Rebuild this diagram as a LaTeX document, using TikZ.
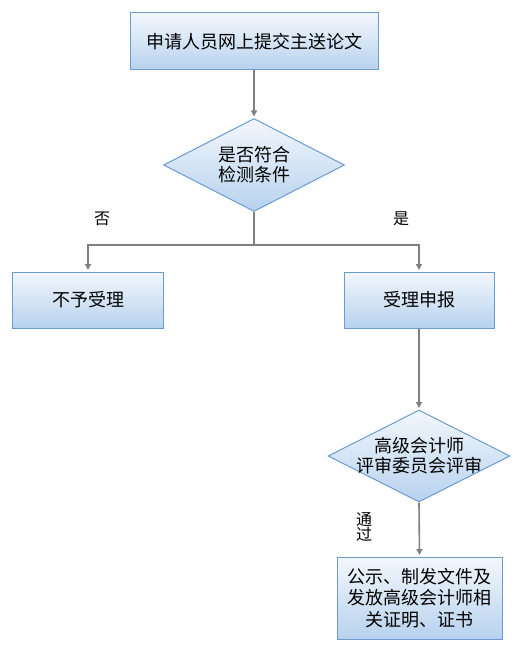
\documentclass[tikz,border=0pt]{standalone}
\usepackage{fontspec}
\setmainfont{Noto Sans CJK SC}
\usetikzlibrary{shapes.geometric,arrows.meta}
\definecolor{boxline}{HTML}{6C9BD2}
\definecolor{boxtop}{HTML}{F3F7FC}
\definecolor{boxbot}{HTML}{B7D2EE}
\definecolor{arrowgray}{HTML}{808080}
\tikzset{
  flowbox/.style={draw=boxline, line width=1bp, top color=boxtop, bottom color=boxbot, inner sep=0pt, align=center, font=\fontsize{18bp}{21.5bp}\selectfont},
  flowdiamond/.style={diamond, draw=boxline, line width=1bp, top color=boxtop, bottom color=boxbot, inner sep=0pt, shape aspect=2},
  flowtext/.style={align=center, inner sep=0pt, font=\fontsize{18bp}{20bp}\selectfont},
  flowlabel/.style={inner sep=0pt, align=center, font=\fontsize{16bp}{13bp}\selectfont},
  flowarrow/.style={draw=arrowgray, line width=1.6bp, -{Triangle[width=6bp,length=6bp]}, shorten >=1.5bp}
}
\begin{document}
\begin{tikzpicture}[x=1bp,y=-1bp]
\useasboundingbox (0,0) rectangle (515,649);
\node[flowbox, minimum width=248bp, minimum height=57bp] (submit) at (254,41.5) {申请人员网上提交主送论文};
\node[flowdiamond, minimum width=181bp, minimum height=93bp] (check) at (254,165) {};
\node[flowtext] (checktext) at (check.center) {是否符合\\检测条件};
\coordinate (split) at (254,245);
\node[flowbox, minimum width=150bp, minimum height=56bp] (reject) at (88,300) {不予受理};
\node[flowbox, minimum width=150bp, minimum height=56bp] (accept) at (419,300) {受理申报};
\node[flowdiamond, minimum width=182bp, minimum height=92bp] (review) at (419,456) {};
\node[flowtext] (reviewtext) at (review.center) {高级会计师\\评审委员会评审};
\node[flowbox, minimum width=165bp, minimum height=82bp] (publish) at (419.5,598) {公示、制发文件及\\发放高级会计师相\\关证明、证书};
\node[flowlabel] (nolabel) at (102,219) {否};
\node[flowlabel] (yeslabel) at (401,219) {是};
\node[flowlabel] (passlabel) at (364,527) {通\\过};
\draw[flowarrow] (submit.south) -- (check.north);
\draw[flowarrow] (check.south) -- (split) -| (reject.north);
\draw[flowarrow] (split) -| (accept.north);
\draw[flowarrow] (accept.south) -- (review.north);
\draw[flowarrow] (review.south) -- (publish.north);
\end{tikzpicture}
\end{document}
